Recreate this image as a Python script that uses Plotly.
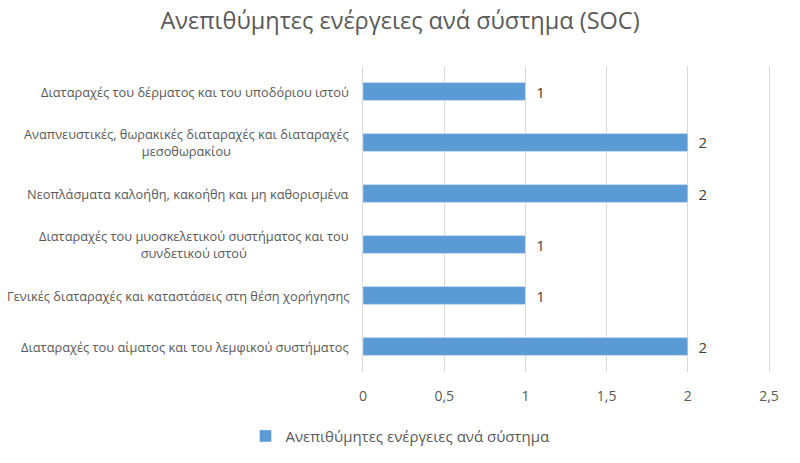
import plotly.graph_objects as go

categories = [
    "Διαταραχές του δέρματος και του υποδόριου ιστού",
    "Αναπνευστικές, θωρακικές διαταραχές και διαταραχές<br>μεσοθωρακίου",
    "Νεοπλάσματα καλοήθη, κακοήθη και μη καθορισμένα",
    "Διαταραχές του μυοσκελετικού συστήματος και του<br>συνδετικού ιστού",
    "Γενικές διαταραχές και καταστάσεις στη θέση χορήγησης",
    "Διαταραχές του αίματος και του λεμφικού συστήματος",
]
values = [1, 2, 2, 1, 1, 2]
tick_vals = [0, 0.5, 1, 1.5, 2, 2.5]
tick_text = ["0", "0,5", "1", "1,5", "2", "2,5"]
series_name = "Ανεπιθύμητες ενέργειες ανά σύστημα"
title = "Ανεπιθύμητες ενέργειες ανά σύστημα (SOC)"

FONT = "Open Sans"
GRAY = "#595959"

fig = go.Figure()
fig.add_trace(go.Bar(
    y=categories, x=values, orientation="h", name=series_name,
    marker=dict(color="#5B9BD5"), width=0.35,
    text=values, texttemplate="  %{x}", textposition="outside",
    constraintext="none",
    textfont=dict(family=FONT, size=15, color="#404040"),
    cliponaxis=False,
))
for cat in categories:
    fig.add_annotation(
        x=0, xref="paper", y=cat, yref="y", xanchor="right", xshift=-12,
        text=cat, align="center", showarrow=False,
        font=dict(family=FONT, size=12.8, color=GRAY),
    )
fig.update_layout(
    width=800, height=463,
    paper_bgcolor="white", plot_bgcolor="white",
    margin=dict(l=363, r=31, t=66, b=91),
    title=dict(text=title, x=0.5, xanchor="center", y=0.955, yanchor="middle",
               font=dict(family=FONT, size=23.5, color=GRAY)),
    font=dict(family=FONT, color=GRAY, size=12),
    showlegend=True,
    legend=dict(orientation="h", xref="container", x=0.5, xanchor="center",
                yref="container", y=0.058, yanchor="middle",
                font=dict(family=FONT, size=15, color=GRAY)),
    xaxis=dict(range=[0, 2.5], tickvals=tick_vals, ticktext=tick_text,
               showgrid=True, gridcolor="#D9D9D9", gridwidth=1,
               zeroline=False, showline=False, ticks="", ticklabelstandoff=14,
               tickfont=dict(family=FONT, size=14, color=GRAY)),
    yaxis=dict(autorange="reversed", showline=True, linecolor="#D9D9D9",
               mirror=True, ticks="", showticklabels=False),
)
fig.write_html("out.html")
